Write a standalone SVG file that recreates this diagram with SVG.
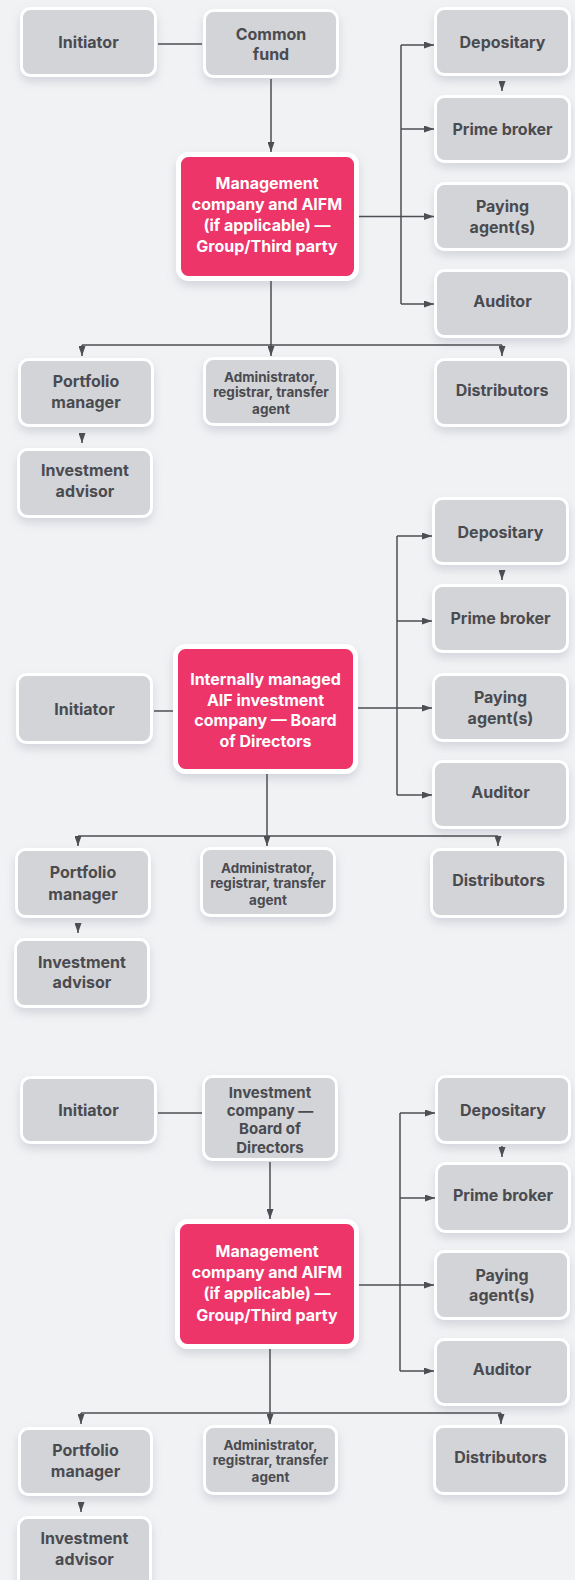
<svg xmlns="http://www.w3.org/2000/svg" width="575" height="1580" viewBox="0 0 575 1580">
  <defs>
    <filter id="soft" x="-20%" y="-20%" width="140%" height="150%">
      <feDropShadow dx="0" dy="5" stdDeviation="5" flood-color="#8a93a6" flood-opacity="0.3"/>
    </filter>
    <marker id="head" viewBox="0 0 10 7" markerWidth="10" markerHeight="7" markerUnits="userSpaceOnUse" refX="10" refY="3.5" orient="auto">
      <path d="M0,0 L10,3.5 L0,7 z" fill="#4d4e53"/>
    </marker>
  </defs>
  <style>
    .box { fill: #d3d4d7; stroke: #ffffff; stroke-width: 3; filter: url(#soft); }
    .key { fill: #ed356a; stroke: #ffffff; stroke-width: 5; filter: url(#soft); }
    .t { font-family: Inter, "Liberation Sans", sans-serif; font-weight: 700; font-size: 16px; fill: #4a4b50; text-anchor: middle; }
    .s { font-size: 13.5px; }
    .m { font-size: 15px; }
    .w { fill: #ffffff; }
    .ln { fill: none; stroke: #4d4e53; stroke-width: 1.5; }
    .ar { marker-end: url(#head); }
  </style>
  <rect width="575" height="1580" fill="#f1f2f4"/>

  <!-- Structure 1: common fund -->
  <g id="n1-initiator"><rect class="box" x="21.5" y="8.5" width="134" height="67" rx="9"/><text class="t" x="88.5" y="47.5">Initiator</text></g>
  <g id="n1-fund"><rect class="box" x="204.5" y="10.5" width="133" height="66" rx="9"/><text class="t" x="271" y="39.5">Common</text><text class="t" x="271" y="59.5">fund</text></g>
  <g id="n1-depositary"><rect class="box" x="435.5" y="8.5" width="134" height="66" rx="9"/><text class="t" x="502.5" y="48">Depositary</text></g>
  <g id="n1-prime"><rect class="box" x="435.5" y="96.5" width="134" height="65" rx="9"/><text class="t" x="502.5" y="134.5">Prime broker</text></g>
  <g id="n1-paying"><rect class="box" x="435.5" y="183.5" width="134" height="66" rx="9"/><text class="t" x="502.5" y="212">Paying</text><text class="t" x="502.5" y="232.5">agent(s)</text></g>
  <g id="n1-auditor"><rect class="box" x="435.5" y="270.5" width="134" height="66" rx="9"/><text class="t" x="502.5" y="307">Auditor</text></g>
  <g id="n1-mgmt"><rect class="key" x="178.5" y="154.5" width="178" height="124" rx="10"/>
    <text class="t w" x="267" y="189">Management</text><text class="t w" x="267" y="210">company and AIFM</text><text class="t w" x="267" y="231">(if applicable) —</text><text class="t w" x="267" y="252">Group/Third party</text></g>
  <g id="n1-portfolio"><rect class="box" x="19.5" y="359.5" width="133" height="66" rx="9"/><text class="t" x="86" y="387">Portfolio</text><text class="t" x="86" y="408">manager</text></g>
  <g id="n1-admin"><rect class="box" x="204.5" y="358.5" width="133" height="66" rx="9"/><text class="t s" x="271" y="381.5">Administrator,</text><text class="t s" x="271" y="397">registrar, transfer</text><text class="t s" x="271" y="413.5">agent</text></g>
  <g id="n1-distributors"><rect class="box" x="435.5" y="359.5" width="133" height="66" rx="9"/><text class="t" x="502" y="395.5">Distributors</text></g>
  <g id="n1-advisor"><rect class="box" x="18.5" y="449.5" width="133" height="67" rx="9"/><text class="t" x="85" y="476">Investment</text><text class="t" x="85" y="497">advisor</text></g>

  <!-- Structure 2: internally managed AIF -->
  <g id="n2-depositary"><rect class="box" x="433.5" y="498.5" width="134" height="65" rx="9"/><text class="t" x="500.5" y="538">Depositary</text></g>
  <g id="n2-prime"><rect class="box" x="433.5" y="585.5" width="134" height="66" rx="9"/><text class="t" x="500.5" y="624">Prime broker</text></g>
  <g id="n2-paying"><rect class="box" x="433.5" y="674.5" width="134" height="66" rx="9"/><text class="t" x="500.5" y="703">Paying</text><text class="t" x="500.5" y="724">agent(s)</text></g>
  <g id="n2-auditor"><rect class="box" x="433.5" y="761.5" width="134" height="66" rx="9"/><text class="t" x="500.5" y="798">Auditor</text></g>
  <g id="n2-initiator"><rect class="box" x="17.5" y="674.5" width="134" height="68" rx="9"/><text class="t" x="84.5" y="714.5">Initiator</text></g>
  <g id="n2-aif"><rect class="key" x="175.5" y="646.5" width="180" height="125" rx="10"/>
    <text class="t w" x="265.5" y="685">Internally managed</text><text class="t w" x="265.5" y="705.5">AIF investment</text><text class="t w" x="265.5" y="726">company — Board</text><text class="t w" x="265.5" y="747">of Directors</text></g>
  <g id="n2-portfolio"><rect class="box" x="16.5" y="849.5" width="133" height="67" rx="9"/><text class="t" x="83" y="878">Portfolio</text><text class="t" x="83" y="899.5">manager</text></g>
  <g id="n2-admin"><rect class="box" x="201.5" y="848.5" width="133" height="67" rx="9"/><text class="t s" x="268" y="872.5">Administrator,</text><text class="t s" x="268" y="888">registrar, transfer</text><text class="t s" x="268" y="904.5">agent</text></g>
  <g id="n2-distributors"><rect class="box" x="431.5" y="849.5" width="134" height="67" rx="9"/><text class="t" x="498.5" y="886">Distributors</text></g>
  <g id="n2-advisor"><rect class="box" x="15.5" y="939.5" width="133" height="67" rx="9"/><text class="t" x="82" y="967.5">Investment</text><text class="t" x="82" y="988">advisor</text></g>

  <!-- Structure 3: investment company with external manager -->
  <g id="n3-initiator"><rect class="box" x="21.5" y="1077.5" width="134" height="65" rx="9"/><text class="t" x="88.5" y="1115.5">Initiator</text></g>
  <g id="n3-board"><rect class="box" x="203.5" y="1076.5" width="133" height="83" rx="9"/><text class="t m" x="270" y="1097.8">Investment</text><text class="t m" x="270" y="1116.1">company —</text><text class="t m" x="270" y="1134.4">Board of</text><text class="t m" x="270" y="1152.7">Directors</text></g>
  <g id="n3-mgmt"><rect class="key" x="177.5" y="1221.5" width="179" height="125" rx="10"/>
    <text class="t w" x="267" y="1257">Management</text><text class="t w" x="267" y="1278">company and AIFM</text><text class="t w" x="267" y="1299">(if applicable) —</text><text class="t w" x="267" y="1320.5">Group/Third party</text></g>
  <g id="n3-depositary"><rect class="box" x="436.5" y="1076.5" width="133" height="66" rx="9"/><text class="t" x="503" y="1116">Depositary</text></g>
  <g id="n3-prime"><rect class="box" x="436.5" y="1163.5" width="133" height="68" rx="9"/><text class="t" x="503" y="1201">Prime broker</text></g>
  <g id="n3-paying"><rect class="box" x="435.5" y="1251.5" width="133" height="67" rx="9"/><text class="t" x="502" y="1280.5">Paying</text><text class="t" x="502" y="1301">agent(s)</text></g>
  <g id="n3-auditor"><rect class="box" x="435.5" y="1339.5" width="133" height="65" rx="9"/><text class="t" x="502" y="1375">Auditor</text></g>
  <g id="n3-portfolio"><rect class="box" x="19.5" y="1428.5" width="132" height="66" rx="9"/><text class="t" x="85.5" y="1456">Portfolio</text><text class="t" x="85.5" y="1477">manager</text></g>
  <g id="n3-admin"><rect class="box" x="204.5" y="1426.5" width="132" height="67" rx="9"/><text class="t s" x="270.5" y="1449.5">Administrator,</text><text class="t s" x="270.5" y="1465">registrar, transfer</text><text class="t s" x="270.5" y="1481.5">agent</text></g>
  <g id="n3-distributors"><rect class="box" x="434.5" y="1426.5" width="132" height="67" rx="9"/><text class="t" x="500.5" y="1463">Distributors</text></g>
  <g id="n3-advisor"><rect class="box" x="18.5" y="1517.5" width="132" height="75" rx="9"/><text class="t" x="84.5" y="1544">Investment</text><text class="t" x="84.5" y="1565">advisor</text></g>

  <!-- Connectors -->
  <g id="connectors">
    <!-- structure 1 -->
    <path class="ln" d="M158,44 H202"/>
    <path class="ln ar" d="M271,79 V152"/>
    <path class="ln ar" d="M359,216.5 H434"/>
    <path class="ln" d="M401,45 V304"/>
    <path class="ln ar" d="M401,45 H434"/>
    <path class="ln ar" d="M401,129 H434"/>
    <path class="ln ar" d="M401,304 H434"/>
    <path class="ln ar" d="M502,81 V91"/>
    <path class="ln" d="M271,281 V345 M82,345 H502"/>
    <path class="ln ar" d="M82,345 V356"/>
    <path class="ln ar" d="M271,345 V356"/>
    <path class="ln ar" d="M502,345 V356"/>
    <path class="ln ar" d="M82,433 V443"/>
    <!-- structure 2 -->
    <path class="ln" d="M154,711 H173"/>
    <path class="ln ar" d="M358,708 H432"/>
    <path class="ln" d="M397,536 V795"/>
    <path class="ln ar" d="M397,536 H432"/>
    <path class="ln ar" d="M397,621 H432"/>
    <path class="ln ar" d="M397,795 H432"/>
    <path class="ln ar" d="M502,570 V580"/>
    <path class="ln" d="M267,774 V836 M78,836 H498"/>
    <path class="ln ar" d="M78,836 V846"/>
    <path class="ln ar" d="M267,836 V846"/>
    <path class="ln ar" d="M498,836 V846"/>
    <path class="ln ar" d="M78,923 V933"/>
    <!-- structure 3 -->
    <path class="ln" d="M158,1113 H202"/>
    <path class="ln ar" d="M270,1162 V1219"/>
    <path class="ln ar" d="M359,1285 H434"/>
    <path class="ln" d="M400,1113 V1371"/>
    <path class="ln ar" d="M400,1113 H435"/>
    <path class="ln ar" d="M400,1198 H435"/>
    <path class="ln ar" d="M400,1371 H434"/>
    <path class="ln ar" d="M502,1146 V1157"/>
    <path class="ln" d="M270,1349 V1413 M81,1413 H501"/>
    <path class="ln ar" d="M81,1413 V1424"/>
    <path class="ln ar" d="M270,1413 V1424"/>
    <path class="ln ar" d="M501,1413 V1424"/>
    <path class="ln ar" d="M81,1502 V1512"/>
  </g>
</svg>
